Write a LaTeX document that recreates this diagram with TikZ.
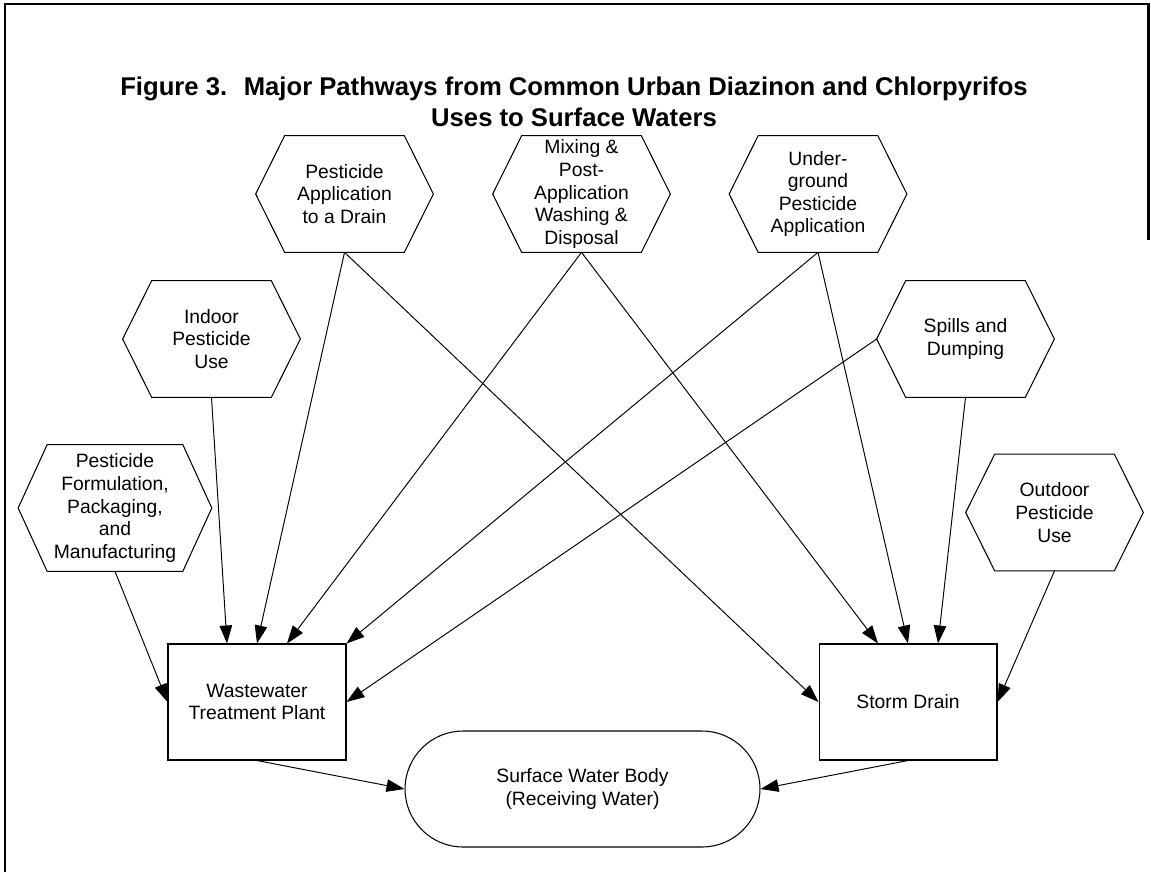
\documentclass[tikz,border=0pt]{standalone}
\usepackage{fontspec}
\setmainfont{Liberation Sans}
\usetikzlibrary{arrows.meta,calc}

\tikzset{
  usenode/.style={minimum width=3.54cm,minimum height=2.32cm,inner sep=0pt,align=center,
                  font=\fontsize{11}{12.9}\selectfont},
  sinknode/.style={draw,line width=0.6pt,minimum width=3.56cm,minimum height=2.32cm,
                   inner sep=0pt,align=center,font=\fontsize{11}{12.9}\selectfont},
  flow/.style={line width=0.55pt,-{Triangle[length=0.36cm,width=0.25cm]}},
}
% hexagon: node name, x, y, text
\newcommand{\Use}[5][]{%
  \node[usenode,#1] (#2) at (#3,#4) {#5};
  \draw[line width=0.6pt] ($(#2.north west)+(29,0)$) -- ($(#2.north east)+(-29,0)$) -- (#2.east)
    -- ($(#2.south east)+(-29,0)$) -- ($(#2.south west)+(29,0)$) -- (#2.west) -- cycle;}

\begin{document}
\begin{tikzpicture}[x=0.02cm,y=-0.02cm]
\useasboundingbox (0,0) rectangle (1151,872);
% Frame
\draw[line width=1.7pt] (5,872) -- (5,4) -- (1148,4) -- (1148,240);
\node[font=\fontsize{14.6}{17.6}\selectfont\bfseries,align=center] (title) at (574,102)
  {Figure 3.~ Major Pathways from Common Urban Diazinon and Chlorpyrifos\\Uses to Surface Waters};
% Uses
\Use[minimum width=3.86cm,minimum height=2.52cm]{form}{115}{508}{Pesticide\\Formulation,\\Packaging,\\and\\Manufacturing}
\Use{indoor}{211.5}{339}{Indoor\\Pesticide\\Use}
\Use{drain}{344.5}{194}{Pesticide\\Application\\to a Drain}
\Use{mix}{581.5}{194}{Mixing \&\\Post-\\Application\\Washing \&\\Disposal}
\Use{under}{818}{194}{Under-\\ground\\Pesticide\\Application}
\Use{spill}{965.5}{339}{Spills and\\Dumping}
\Use{outdoor}{1054.5}{512.5}{Outdoor\\Pesticide\\Use}
% Receivers
\node[sinknode] (wwtp)  at (257,702) {Wastewater\\Treatment Plant};
\node[sinknode] (storm) at (908,702) {Storm Drain};
\node[draw,line width=0.6pt,minimum width=7.1cm,minimum height=2.32cm,rounded corners=1.16cm,
      inner sep=0pt,align=center,font=\fontsize{11}{12.9}\selectfont] (water) at (582.5,789)
  {Surface Water Body\\(Receiving Water)};
% Pathways to the plant
\draw[flow] (form.south)  -- (wwtp.west);
\draw[flow] (indoor.south) -- ($(wwtp.north)+(-30,0)$);
\draw[flow] (drain.south) -- (wwtp.north);
\draw[flow] (mix.south)   -- ($(wwtp.north)+(30,0)$);
\draw[flow] (under.south) -- (wwtp.north east);
\draw[flow] (spill.west)  -- (wwtp.east);
% Pathways to the storm drain
\draw[flow] (drain.south) -- (storm.west);
\draw[flow] (mix.south)   -- ($(storm.north)+(-30,0)$);
\draw[flow] (under.south) -- (storm.north);
\draw[flow] (spill.south) -- ($(storm.north)+(30,0)$);
\draw[flow] (outdoor.south) -- (storm.east);
% To surface water
\draw[flow] (wwtp.south)  -- (water.west);
\draw[flow] (storm.south) -- (water.east);
\end{tikzpicture}
\end{document}
